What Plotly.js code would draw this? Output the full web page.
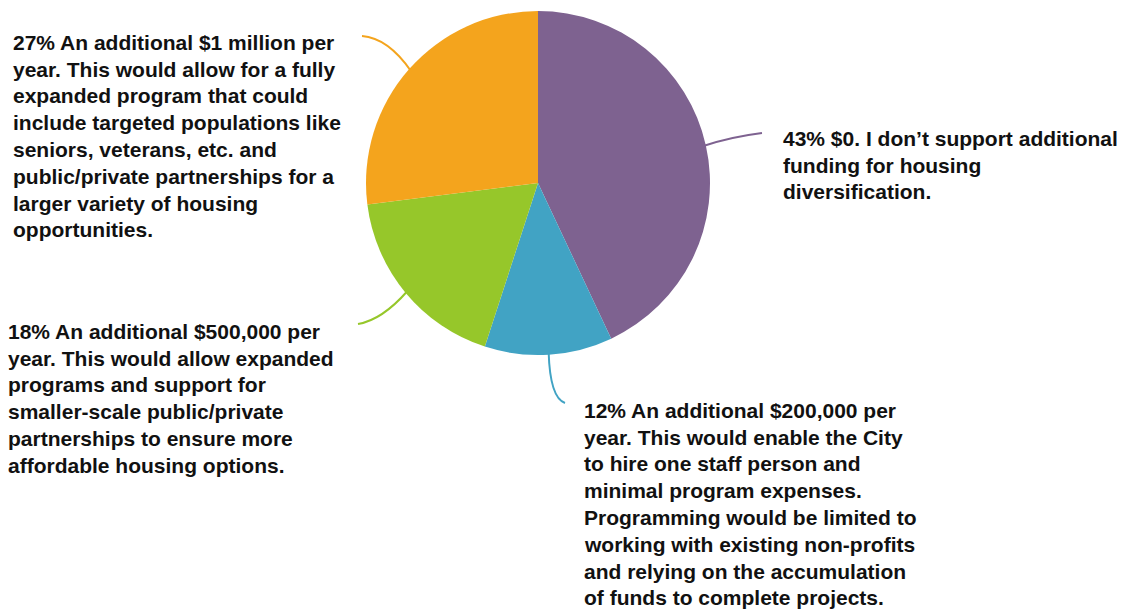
<!DOCTYPE html>
<html>
<head>
<meta charset="utf-8">
<script src="https://cdn.plot.ly/plotly-3.0.1.min.js"></script>
<style>html,body{margin:0;padding:0;background:#fff;}#chart{width:1122px;height:609px;}</style>
</head>
<body>
<div id="chart"></div>
<script>
// ---- data ----
const percents = [43, 12, 18, 27];
const descriptions = [
  "$0. I don’t support additional<br>funding for housing<br>diversification.",
  "An additional $200,000 per<br>year. This would enable the City<br>to hire one staff person and<br>minimal program expenses.<br>Programming would be limited to<br>working with existing non-profits<br>and relying on the accumulation<br>of funds to complete projects.",
  "An additional $500,000 per<br>year. This would allow expanded<br>programs and support for<br>smaller-scale public/private<br>partnerships to ensure more<br>affordable housing options.",
  "An additional $1 million per<br>year. This would allow for a fully<br>expanded program that could<br>include targeted populations like<br>seniors, veterans, etc. and<br>public/private partnerships for a<br>larger variety of housing<br>opportunities."
];
const colors = ["#7E6290", "#41A3C4", "#96C72A", "#F4A41D"];

// ---- layout constants (pixels) ----
const W = 1122, H = 609;
const cx = 538, cy = 183, R = 172;
const FONT = 21, LINE = 26.8;
// label left x and first-line baseline y
const labelPos = [
  {x: 780.5, b: 145.5},
  {x: 582, b: 417.5},
  {x: 6, b: 338.5},
  {x: 10.5, b: 49.5}
];
const leader = [
  {ex: 762, ey: 133, qx: 730, qy: 137},
  {ex: 565, ey: 403, qx: 550, qy: 398},
  {ex: 358, ey: 324, qx: 382, qy: 320},
  {ex: 362, ey: 36, qx: 388, qy: 38}
];

const px = x => x / W;
const py = y => 1 - y / H;

const total = percents.reduce((a, b) => a + b, 0);
let cum = 0;
const shapes = [], annotations = [];
percents.forEach((v, i) => {
  const mid = (cum + v / 2) / total * 2 * Math.PI; // clockwise from top
  cum += v;
  const sx = cx + R * Math.sin(mid) * 0.985;
  const sy = cy - R * Math.cos(mid) * 0.985;
  const L = leader[i];
  shapes.push({
    type: 'path', xref: 'paper', yref: 'paper',
    path: `M ${px(sx)} ${py(sy)} Q ${px(L.qx)} ${py(L.qy)} ${px(L.ex)} ${py(L.ey)}`,
    line: {color: colors[i], width: 2}, layer: 'below'
  });
  const lines = (`${v}% ` + descriptions[i]).split('<br>');
  lines.forEach((t, k) => {
    const baseline = labelPos[i].b + k * LINE;
    annotations.push({
      xref: 'paper', yref: 'paper',
      x: px(labelPos[i].x), y: py(baseline - 0.3465 * FONT),
      xanchor: 'left', yanchor: 'middle', align: 'left', showarrow: false,
      text: t,
      font: {family: 'Liberation Sans, Arial, sans-serif', size: FONT, color: '#111', weight: 'bold'}
    });
  });
});

const data = [{
  type: 'pie',
  values: percents,
  labels: percents.map((v, i) => 'slice' + i),
  marker: {colors: colors, line: {width: 0}},
  sort: false, direction: 'clockwise', rotation: 0,
  textinfo: 'none', hoverinfo: 'none', showlegend: false,
  domain: {x: [px(cx - R), px(cx + R)], y: [py(cy + R), py(cy - R)]}
}];

const layout = {
  width: W, height: H,
  margin: {l: 0, r: 0, t: 0, b: 0},
  paper_bgcolor: '#fff', plot_bgcolor: '#fff',
  showlegend: false, shapes, annotations
};
Plotly.newPlot('chart', data, layout, {displayModeBar: false, staticPlot: true});
</script>
</body>
</html>
